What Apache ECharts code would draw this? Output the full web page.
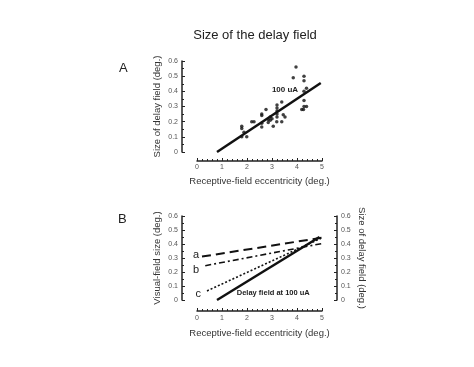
<!DOCTYPE html>
<html><head><meta charset="utf-8">
<script src="https://cdn.jsdelivr.net/npm/echarts@6/dist/echarts.min.js"></script>
<style>html,body{margin:0;padding:0;background:#fff}#c{width:474px;height:367px}</style>
</head><body><div id="c"></div>
<script>
// Panel A scatter data (eccentricity, size of delay field)
const scatterX = [3.96,3.85,4.28,4.28,4.38,4.28,4.28,4.19,4.26,4.28,4.38,
  3.39,3.2,3.2,3.2,3.2,3.2,2.76,2.59,2.59,2.59,2.59,2.85,2.93,3.0,3.05,3.39,3.19,3.45,3.52,2.85,2.19,2.28,1.79,1.79,1.88,1.79,1.99,2.93];
const scatterY = [0.56,0.49,0.50,0.47,0.42,0.40,0.34,0.28,0.28,0.30,0.30,
  0.33,0.31,0.29,0.27,0.25,0.23,0.28,0.25,0.24,0.19,0.165,0.215,0.23,0.22,0.17,0.20,0.20,0.245,0.23,0.195,0.20,0.20,0.17,0.155,0.13,0.10,0.10,0.21];
// Regression line (100 uA)
const fitX = [0.8, 4.95];
const fitY = [0.0, 0.455];
// Panel B lines
const lineAX = [0.2, 5.0], lineAY = [0.31, 0.445];
const lineBX = [0.33, 5.05], lineBY = [0.245, 0.405];
const lineCX = [0.4, 4.95], lineCY = [0.065, 0.44];
const delayX = [0.8, 4.9], delayY = [0.0, 0.45];
const xTicks = [0,1,2,3,4,5];
const yTicks = [0,0.1,0.2,0.3,0.4,0.5,0.6];

const zip = (a,b)=>a.map((v,i)=>[v,b[i]]);
const FONT = 'Liberation Sans';
const tickLbl = {fontSize:7, color:'#555', fontFamily:FONT};
const nameStyle = {fontSize:9.5, color:'#333', fontFamily:FONT};
const axLine = {show:true, onZero:false, lineStyle:{color:'#222', width:1.5}};

function xAx(grid, off, margin, gap){
  return {gridIndex:grid, type:'value', min:0, max:5, interval:1, offset:off,
    axisLine:axLine, axisTick:{show:true, inside:true, length:3, lineStyle:{color:'#222'}},
    minorTick:{show:true, splitNumber:5, length:2, lineStyle:{color:'#222'}},
    splitLine:{show:false}, axisLabel:Object.assign({margin:margin}, tickLbl),
    name:'Receptive-field eccentricity (deg.)', nameLocation:'middle', nameGap:gap, nameTextStyle:nameStyle};
}
function yAx(grid, pos, name, rot){
  return {gridIndex:grid, type:'value', min:0, max:0.6, interval:0.1, position:pos, offset:15,
    axisLine:axLine, axisTick:{show:true, inside:true, length:3, lineStyle:{color:'#222'}},
    minorTick:{show:true, splitNumber:2, length:2, lineStyle:{color:'#222'}},
    splitLine:{show:false}, axisLabel:Object.assign({margin:4, formatter:v=>String(Math.round(v*10)/10)}, tickLbl),
    name:name, nameLocation:'middle', nameGap:20, nameRotate:rot, nameTextStyle:nameStyle};
}
function tag(x, y, text, size, bold, off){
  return {symbol:'circle', symbolSize:0, data:[{coord:[x,y],
    label:{show:true, formatter:text, offset:off||[0,0], fontSize:size, fontWeight:bold?'bold':'normal', color:'#222', fontFamily:FONT}}]};
}

const chart = echarts.init(document.getElementById('c'), null, {renderer:'canvas'});
chart.setOption({
  animation:false,
  backgroundColor:'#fff',
  title:[
    {text:'Size of the delay field', left:250, top:24, textAlign:'center',
      textStyle:{fontSize:13, fontWeight:'normal', color:'#222', fontFamily:FONT}},
    {text:'A', left:114, top:57, textStyle:{fontSize:13, fontWeight:'normal', color:'#222', fontFamily:FONT}},
    {text:'B', left:113, top:208, textStyle:{fontSize:13, fontWeight:'normal', color:'#222', fontFamily:FONT}}
  ],
  grid:[
    {left:197, width:125, top:61, height:91},
    {left:197, width:125, top:216, height:84}
  ],
  xAxis:[xAx(0,9,3,15), xAx(1,11,4,17)],
  yAxis:[yAx(0,'left','Size of delay field (deg.)',90),
         yAx(1,'left','Visual-field size (deg.)',90),
         yAx(1,'right','Size of delay field (deg.)',-90)],
  series:[
    {type:'scatter', xAxisIndex:0, yAxisIndex:0, data:zip(scatterX,scatterY), symbolSize:3.5,
      itemStyle:{color:'#111'}},
    {type:'line', xAxisIndex:0, yAxisIndex:0, data:zip(fitX,fitY), symbol:'none',
      lineStyle:{color:'#111', width:2.5}, markPoint:tag(3.52,0.41,'100 uA',8,true)},
    {type:'line', xAxisIndex:1, yAxisIndex:1, data:zip(lineAX,lineAY), symbol:'none',
      lineStyle:{color:'#111', width:2, type:[9,5]}, markPoint:tag(0,0.325,'a',11,false,[-1,0])},
    {type:'line', xAxisIndex:1, yAxisIndex:1, data:zip(lineBX,lineBY), symbol:'none',
      lineStyle:{color:'#111', width:1.6, type:[6,3,2,3]}, markPoint:tag(0,0.215,'b',11,false,[-1,0])},
    {type:'line', xAxisIndex:1, yAxisIndex:1, data:zip(lineCX,lineCY), symbol:'none',
      lineStyle:{color:'#111', width:1.6, type:[2,2]}, markPoint:tag(0.05,0.045,'c',11,false)},
    {type:'line', xAxisIndex:1, yAxisIndex:1, data:zip(delayX,delayY), symbol:'none',
      lineStyle:{color:'#111', width:2.5}, markPoint:tag(3.05,0.05,'Delay field at 100 uA',7.5,true)},
    {type:'line', xAxisIndex:1, yAxisIndex:2, data:[], symbol:'none'}
  ]
});
</script></body></html>
